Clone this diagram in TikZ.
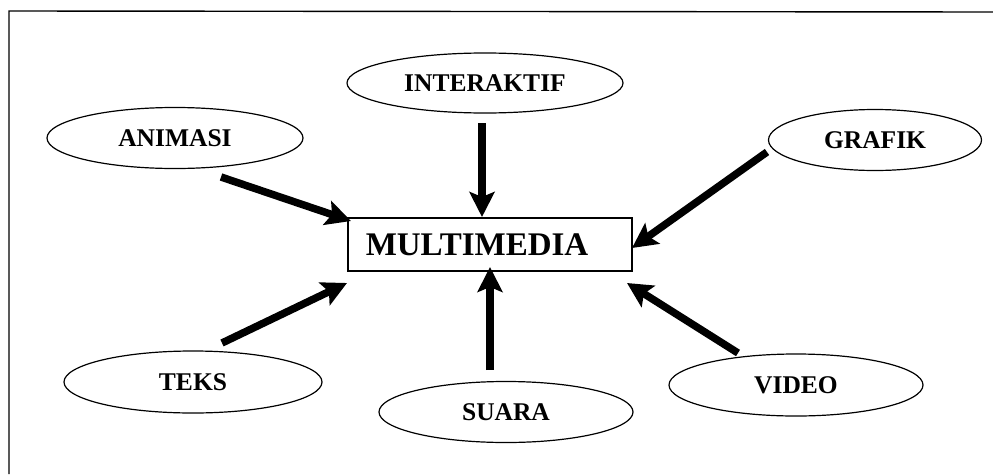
\documentclass[tikz,border=0pt]{standalone}
\usepackage{fontspec}
\setmainfont{Liberation Serif}
\usetikzlibrary{shapes.geometric,arrows.meta}
\begin{document}
\begin{tikzpicture}[x=1pt,y=-1pt,
  oval/.style={draw,ellipse,line width=1.2pt,inner sep=0pt,font=\bfseries\fontsize{25.5}{25.5}\selectfont},
  arr/.style={line width=7.5pt,-{Stealth[length=25pt,width=25pt,inset=5pt]}},
  mmbox/.style={draw,rectangle,line width=1.2pt,inner sep=0pt}]
\useasboundingbox (0,0) rectangle (993,474);
\draw[line width=1.4pt] (9,474) -- (9,11) -- (993,12);
% nodes
\node[oval,minimum width=256pt,minimum height=61pt] (animasi) at (175,138) {ANIMASI};
\node[oval,minimum width=276pt,minimum height=60pt] (interaktif) at (485,83) {INTERAKTIF};
\node[oval,minimum width=213pt,minimum height=61pt] (grafik) at (875,140) {GRAFIK};
\node[oval,minimum width=258pt,minimum height=62pt] (teks) at (193,382) {TEKS};
\node[oval,minimum width=254pt,minimum height=61pt] (suara) at (506,412) {SUARA};
\node[oval,minimum width=254pt,minimum height=62pt] (video) at (796,385) {VIDEO};
\node[mmbox,minimum width=284pt,minimum height=53pt] (mm) at (490,244.5) {};
\node[font=\bfseries\fontsize{33}{33}\selectfont,inner sep=0pt] (mmtext) at (477,245) {MULTIMEDIA};
% arrow end points
\coordinate (a1) at (221,177); \coordinate (a2) at (351,221);
\coordinate (i1) at (482,123); \coordinate (i2) at (482,217);
\coordinate (g1) at (767,152); \coordinate (g2) at (632,248);
\coordinate (t1) at (222,343); \coordinate (t2) at (347,283);
\coordinate (s1) at (490,370); \coordinate (s2) at (490,267);
\coordinate (v1) at (738,353); \coordinate (v2) at (627,283);
\draw[arr] (a1) -- (a2);
\draw[arr] (i1) -- (i2);
\draw[arr] (g1) -- (g2);
\draw[arr] (t1) -- (t2);
\draw[arr] (s1) -- (s2);
\draw[arr] (v1) -- (v2);
\end{tikzpicture}
\end{document}
